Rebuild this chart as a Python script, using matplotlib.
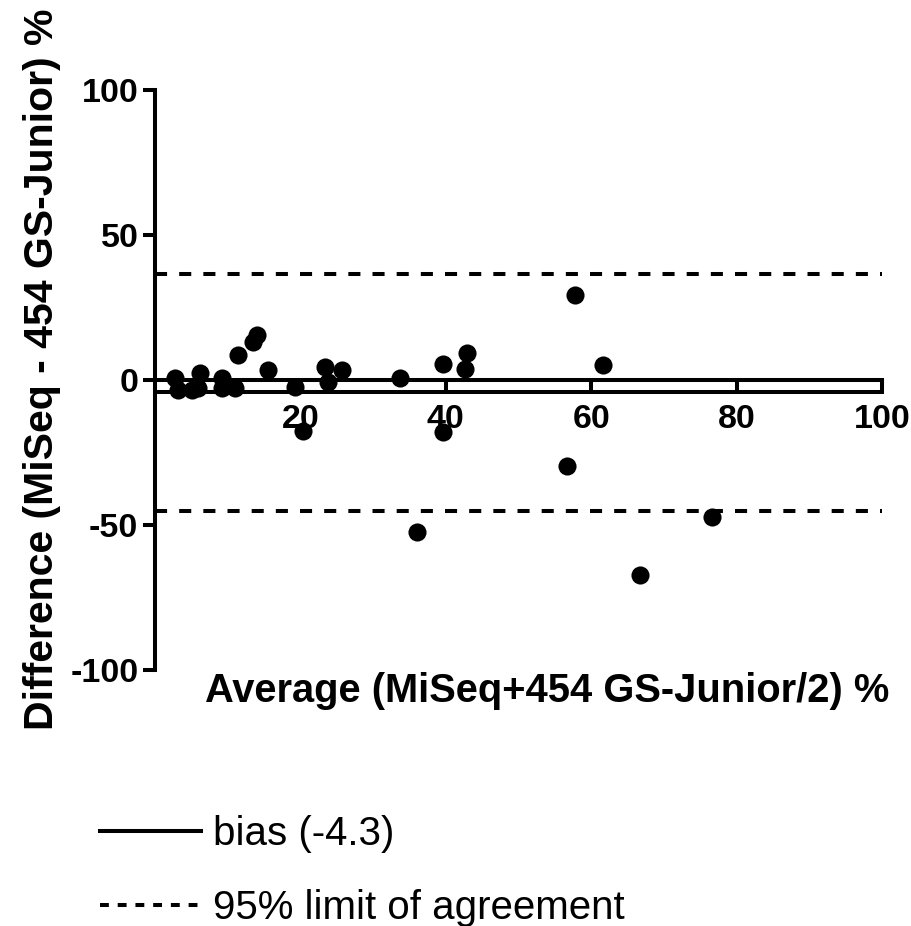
import matplotlib
matplotlib.use("Agg")
import matplotlib.pyplot as plt
from matplotlib.lines import Line2D

avg = [2.8, 3.2, 5.1, 6.2, 5.9, 9.2, 9.2, 11.0, 11.4, 13.5, 14.0, 15.5, 19.3, 20.4,
       23.4, 23.8, 25.7, 33.7, 36.0, 39.6, 39.6, 42.6, 42.9, 56.7, 57.8, 61.6, 66.7, 76.6]
diff = [0.7, -3.5, -3.5, 2.4, -2.8, 0.7, -2.8, -2.8, 8.6, 13.0, 15.5, 3.4, -2.4, -17.5,
        4.5, -0.7, 3.4, 0.7, -52.4, 5.5, -17.9, 3.8, 9.3, -29.7, 29.3, 5.2, -67.2, -47.2]
bias = -4.3
loa_upper = 36.6
loa_lower = -45.2
x_range = [0, 100]
xticks = [20, 40, 60, 80, 100]
yticks = [-100, -50, 0, 50, 100]

fig = plt.figure(figsize=(9.12, 9.26), dpi=100)
ax = fig.add_axes([0.170, 0.2765, 0.797, 0.6263])

lw = 2.9
ax.plot(x_range, [bias, bias], color="black", lw=lw, solid_capstyle="butt", zorder=2)
ax.plot(x_range, [loa_upper, loa_upper], color="black", lw=lw, dashes=(3, 3), zorder=2)
ax.plot(x_range, [loa_lower, loa_lower], color="black", lw=lw, dashes=(3, 3), zorder=2)
ax.scatter(avg, diff, s=170, color="black", marker="o", zorder=3, linewidths=0)

ax.set_xlim(0, 100)
ax.set_ylim(-100, 100)
ax.spines["top"].set_visible(False)
ax.spines["right"].set_visible(False)
ax.spines["bottom"].set_position(("data", 0))
for sp in ["left", "bottom"]:
    ax.spines[sp].set_linewidth(lw)
ax.set_xticks(xticks)
ax.set_yticks(yticks)
ax.tick_params(axis="both", direction="out", length=9, width=lw, pad=3)
ax.tick_params(axis="x", length=10, pad=7)

tickfont = dict(family="Liberation Sans", weight="bold", size=24.5)
ax.set_xticklabels([str(t) for t in xticks], fontdict=tickfont)
ax.set_yticklabels([str(t) for t in yticks], fontdict=tickfont)

fig.text(0.600, 0.2535, "Average (MiSeq+454 GS-Junior/2) %", ha="center", va="center",
         family="Liberation Sans", weight="bold", size=28.7)
fig.text(0.046, 0.6015, "Difference (MiSeq - 454 GS-Junior) %", ha="center", va="center",
         rotation=90, family="Liberation Sans", weight="bold", size=29.5)

handles = [Line2D([], [], color="black", lw=lw),
           Line2D([], [], color="black", lw=lw, dashes=(2.2, 2.2))]
leg = fig.legend(handles, ["bias (-4.3)", "95% limit of agreement"],
                 loc="upper left", bbox_to_anchor=(0.11, 0.12), frameon=False,
                 prop=dict(family="Liberation Sans", size=29), handlelength=2.5,
                 handletextpad=0.3, labelspacing=0.9, borderaxespad=0, borderpad=0)

fig.savefig("out.png", dpi=100)
